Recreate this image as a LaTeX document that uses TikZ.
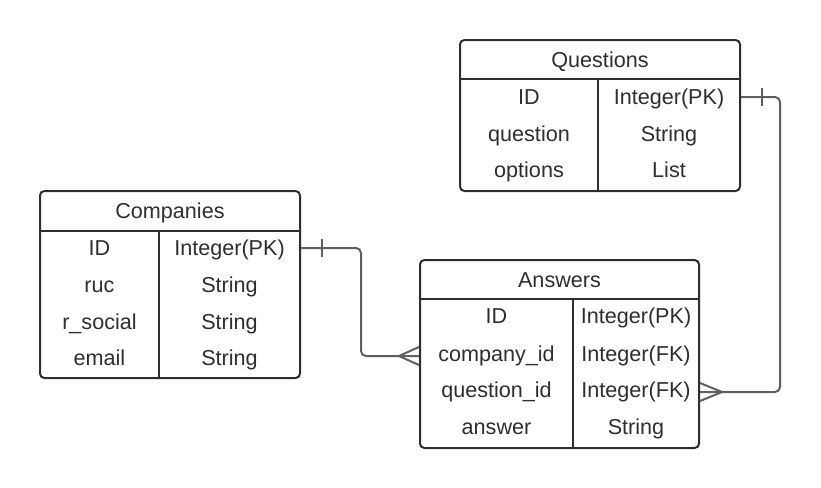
\documentclass[tikz,border=0pt]{standalone}
\usepackage{fontspec}
\setmainfont{Liberation Sans}
\definecolor{ink}{HTML}{2E2E2E}
\definecolor{link}{HTML}{5F5F5F}

\begin{document}
\begin{tikzpicture}[x=0.5pt, y=-0.5pt,
  tbl/.style={draw=ink, line width=1pt, rounded corners=2.2pt, inner sep=0pt},
  fld/.style={text=ink, font=\fontsize{10.8}{13}\selectfont, inner sep=0pt,
    text height=7.7pt, text depth=0pt},
  rule/.style={draw=ink, line width=1pt},
  rel/.style={draw=link, line width=1pt, rounded corners=2.5pt}]
  \useasboundingbox (0,0) rectangle (821,488);

  % Questions
  \node[tbl, minimum width=140pt, minimum height=75.5pt] (ques) at (600,115.5) {};
  \draw[rule] (ques.west |- 0,79) -- (ques.east |- 0,79);
  \draw[rule] (598,79) -- (598,0 |- ques.south);
  \node[fld] (q-title) at (600,59.5) {Questions};
  \node[fld] (q-id-n)  at (529,97)  {ID};
  \node[fld] (q-id-t)  at (669,97)  {Integer(PK)};
  \node[fld] (q-qu-n)  at (529,134) {question};
  \node[fld] (q-qu-t)  at (669,134) {String};
  \node[fld] (q-op-n)  at (529,170) {options};
  \node[fld] (q-op-t)  at (669,170) {List};

  % Companies
  \node[tbl, minimum width=130pt, minimum height=93.5pt] (comp) at (170,284.5) {};
  \draw[rule] (comp.west |- 0,231) -- (comp.east |- 0,231);
  \draw[rule] (159,231) -- (159,0 |- comp.south);
  \node[fld] (c-title) at (170,211) {Companies};
  \node[fld] (c-id-n)  at (99.5,248)  {ID};
  \node[fld] (c-id-t)  at (229.5,248) {Integer(PK)};
  \node[fld] (c-ruc-n) at (99.5,285)  {ruc};
  \node[fld] (c-ruc-t) at (229.5,285) {String};
  \node[fld] (c-rs-n)  at (99.5,322)  {r\_social};
  \node[fld] (c-rs-t)  at (229.5,322) {String};
  \node[fld] (c-em-n)  at (99.5,358)  {email};
  \node[fld] (c-em-t)  at (229.5,358) {String};

  % Answers
  \node[tbl, minimum width=139.5pt, minimum height=94pt] (ans) at (559.5,354) {};
  \draw[rule] (ans.west |- 0,299) -- (ans.east |- 0,299);
  \draw[rule] (573,299) -- (573,0 |- ans.south);
  \node[fld] (a-title) at (559.5,279.5) {Answers};
  \node[fld] (a-id-n)  at (496.5,316) {ID};
  \node[fld] (a-id-t)  at (636,316)   {Integer(PK)};
  \node[fld] (a-cid-n) at (496.5,354) {company\_id};
  \node[fld] (a-cid-t) at (636,354)   {Integer(FK)};
  \node[fld] (a-qid-n) at (496.5,390) {question\_id};
  \node[fld] (a-qid-t) at (636,390)   {Integer(FK)};
  \node[fld] (a-ans-n) at (496.5,427) {answer};
  \node[fld] (a-ans-t) at (636,427)   {String};

  % Companies -- Answers
  \coordinate (c-out) at (comp.east |- c-id-t);
  \coordinate (a-in)  at (ans.west |- 0,356);
  \draw[rel] (c-out) -- ++(60,0) |- (a-in);
  \draw[rel] ([shift={(21,-9)}]c-out) -- ++(0,18);
  \draw[rel, rounded corners=0pt] ([shift={(0,-9)}]a-in) -- ([shift={(-20,0)}]a-in) -- ([shift={(0,9)}]a-in);

  % Questions -- Answers
  \coordinate (q-out) at (ques.east |- q-id-t);
  \coordinate (a-out) at (ans.east |- 0,392);
  \draw[rel] (q-out) -- (780,0 |- q-out) |- (a-out);
  \draw[rel] ([shift={(21,-9)}]q-out) -- ++(0,18);
  \draw[rel, rounded corners=0pt] ([shift={(0,-9)}]a-out) -- ([shift={(22,0)}]a-out) -- ([shift={(0,9)}]a-out);
\end{tikzpicture}
\end{document}
